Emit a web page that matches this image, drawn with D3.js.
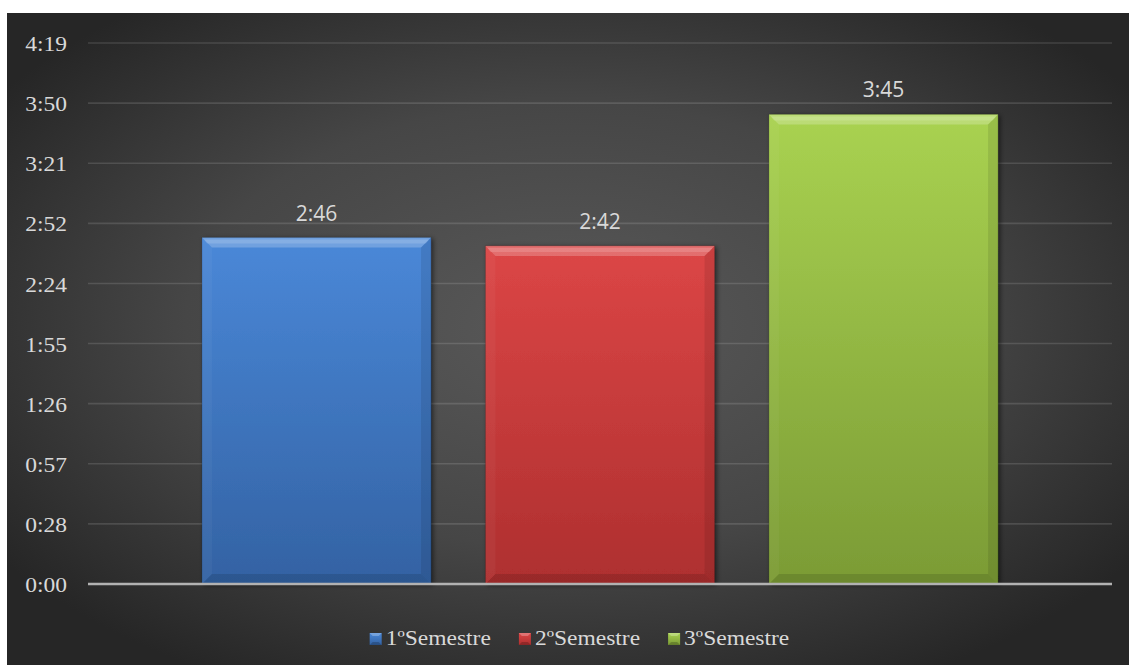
<!DOCTYPE html>
<html>
<head>
<meta charset="utf-8">
<script src="https://cdn.jsdelivr.net/npm/d3@7"></script>
<style>
  html, body { margin: 0; padding: 0; background: #ffffff; }
  svg { display: block; }
</style>
</head>
<body>
<svg id="chart" width="1129" height="665"></svg>
<script>
// Average duration per semester, in minutes (shown as h:mm)
const categories = ["1ºSemestre", "2ºSemestre", "3ºSemestre"];
const durations = [166, 162, 225];
const tickValues = [0, 28.8, 57.6, 86.4, 115.2, 144, 172.8, 201.6, 230.4, 259.2];
const tickLabels = ["0:00", "0:28", "0:57", "1:26", "1:55", "2:24", "2:52", "3:21", "3:50", "4:19"];
const topColors = ["#4a88d8", "#dc4646", "#a9d251"];
const bottomColors = ["#3362a3", "#ae2f2f", "#7b9b35"];

const W = 1129, H = 665;
const svg = d3.select("#chart");
const defs = svg.append("defs");

// Backdrop: dark radial glow
const bg = defs.append("radialGradient").attr("id", "bg")
  .attr("cx", "50%").attr("cy", "48%").attr("r", "62%");
bg.append("stop").attr("offset", "0%").attr("stop-color", "#595959");
bg.append("stop").attr("offset", "55%").attr("stop-color", "#464646");
bg.append("stop").attr("offset", "100%").attr("stop-color", "#262626");
svg.append("rect").attr("x", 7).attr("y", 13).attr("width", W - 7).attr("height", H - 13)
  .attr("fill", "url(#bg)");

const shadow = defs.append("filter").attr("id", "shadow")
  .attr("x", "-10%").attr("y", "-10%").attr("width", "125%").attr("height", "125%");
shadow.append("feDropShadow").attr("dx", 2).attr("dy", 1).attr("stdDeviation", 2.5)
  .attr("flood-color", "#000").attr("flood-opacity", 0.55);

categories.forEach((c, i) => {
  const g = defs.append("linearGradient").attr("id", "bar" + i)
    .attr("x1", 0).attr("y1", 0).attr("x2", 0).attr("y2", 1);
  g.append("stop").attr("offset", "0%").attr("stop-color", topColors[i]);
  g.append("stop").attr("offset", "100%").attr("stop-color", bottomColors[i]);
});

const x = d3.scaleBand().domain(categories).range([88, 1112])
  .paddingInner(0.192).paddingOuter(0.402);
const y = d3.scaleLinear().domain([0, 259.2]).range([584, 43]);

const fmt = m => {
  const h = Math.floor(m / 60), mm = Math.floor(m - h * 60);
  return h + ":" + String(mm).padStart(2, "0");
};

// Gridlines
svg.append("g").selectAll("line").data(tickValues.slice(1)).join("line")
  .attr("x1", 88).attr("x2", 1112)
  .attr("y1", d => y(d)).attr("y2", d => y(d))
  .attr("stroke", "#ffffff").attr("stroke-opacity", 0.13).attr("stroke-width", 1.6);

// Y axis labels (serif, horizontally widened)
const SX = 1.12;
const yAxis = svg.append("g").attr("transform", "translate(67,0)")
  .call(d3.axisLeft(y).tickValues(tickValues).tickSize(0).tickPadding(0)
    .tickFormat((d, i) => tickLabels[i]));
yAxis.select(".domain").remove();
yAxis.selectAll("text")
  .attr("font-family", "'Liberation Serif', 'Times New Roman', serif")
  .attr("font-size", 21).attr("fill", "#d9d9d9")
  .attr("dy", "0.36em").attr("x", 0)
  .attr("transform", `scale(${SX},1)`);

// Bars with bevelled edges
const bw = x.bandwidth();
const bars = svg.append("g").selectAll("g").data(categories).join("g");
bars.each(function (c, i) {
  const g = d3.select(this);
  const x0 = x(c), x1 = x(c) + bw, y0 = y(durations[i]), y1 = y(0);
  const b = 10;
  g.append("rect").attr("x", x0).attr("y", y0).attr("width", bw).attr("height", y1 - y0)
    .attr("fill", `url(#bar${i})`).attr("filter", "url(#shadow)");
  const poly = (pts, fill, op) => g.append("polygon")
    .attr("points", pts.map(p => p.join(",")).join(" "))
    .attr("fill", fill).attr("fill-opacity", op);
  poly([[x0, y0], [x1, y0], [x1 - b, y0 + b], [x0 + b, y0 + b]], "#ffffff", 0.22);
  poly([[x0 + 2, y0 + 2], [x1 - 2, y0 + 2], [x1 - 5, y0 + 6], [x0 + 5, y0 + 6]], "#ffffff", 0.14);
  poly([[x0, y0], [x0 + b, y0 + b], [x0 + b, y1 - b], [x0, y1]], "#ffffff", 0.04);
  poly([[x1, y0], [x1 - b, y0 + b], [x1 - b, y1 - b], [x1, y1]], "#000000", 0.09);
  poly([[x0, y1], [x0 + b, y1 - b], [x1 - b, y1 - b], [x1, y1]], "#000000", 0.12);
  g.append("rect").attr("x", x0).attr("y", y0).attr("width", bw).attr("height", y1 - y0)
    .attr("fill", "none").attr("stroke", "#000").attr("stroke-opacity", 0.15);
});

// Value labels
svg.append("g").selectAll("text").data(categories).join("text")
  .attr("x", c => x(c) + bw / 2)
  .attr("y", (c, i) => y(durations[i]) - 17)
  .attr("text-anchor", "middle")
  .attr("font-family", "'Open Sans', 'Liberation Sans', sans-serif")
  .attr("font-size", 21).attr("fill", "#d9d9d9")
  .text((c, i) => fmt(durations[i]));

// Baseline
svg.append("line").attr("x1", 88).attr("x2", 1112).attr("y1", y(0)).attr("y2", y(0))
  .attr("stroke", "#b2b2b2").attr("stroke-width", 2.5);

// Legend
const legend = svg.append("g");
const items = legend.selectAll("g").data(categories).join("g");
const ms = 12;
items.each(function (c, i) {
  const g = d3.select(this);
  g.append("rect").attr("x", 0).attr("y", -ms).attr("width", ms).attr("height", ms)
    .attr("fill", `url(#bar${i})`);
  g.append("polygon")
    .attr("points", `0,${-ms} ${ms},${-ms} ${ms - 3},${-ms + 3} 3,${-ms + 3}`)
    .attr("fill", "#fff").attr("fill-opacity", 0.25);
  g.append("polygon")
    .attr("points", `0,0 ${ms},0 ${ms - 3},-3 3,-3`)
    .attr("fill", "#000").attr("fill-opacity", 0.2);
  g.append("text")
    .attr("transform", `translate(${ms + 4},0) scale(${SX},1)`)
    .attr("font-family", "'Liberation Serif', 'Times New Roman', serif")
    .attr("font-size", 21).attr("fill", "#d9d9d9")
    .text(c);
});
const gap = 28;
const widths = [];
items.each(function () {
  const t = d3.select(this).select("text").node();
  widths.push(ms + 4 + t.getComputedTextLength() * SX);
});
const total = d3.sum(widths) + gap * (widths.length - 1);
const start = 579.5 - total / 2;
items.attr("transform", (c, i) => {
  const tx = start + d3.sum(widths.slice(0, i)) + gap * i;
  return `translate(${tx},645)`;
});
</script>
</body>
</html>
